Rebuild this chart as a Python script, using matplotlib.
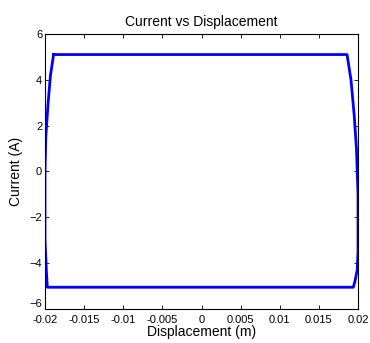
import matplotlib
matplotlib.use('Agg')
import matplotlib.pyplot as plt

plt.rcParams['font.family'] = ['Liberation Sans', 'DejaVu Sans']

# loop (displacement m, current A)
disp = [-0.0189, 0.0, 0.0186, 0.0191, 0.0195, 0.0198, 0.0200, 0.0200, 0.0199, 0.0196, 0.0194,
        0.0, -0.0197, -0.0198, -0.0200, -0.0200, -0.0199, -0.0196, -0.0193, -0.0189]
curr = [5.1, 5.1, 5.1, 4.0, 2.5, 1.0, -1.0, -3.5, -4.3, -4.8, -5.05,
        -5.05, -5.05, -4.5, -3.0, 0.0, 1.5, 3.0, 4.2, 5.1]

xticks = [-0.02, -0.015, -0.01, -0.005, 0, 0.005, 0.01, 0.015, 0.02]
xlabels = ['-0.02', '-0.015', '-0.01', '-0.005', '0', '0.005', '0.01', '0.015', '0.02']
yticks = [-6, -4, -2, 0, 2, 4, 6]

fig = plt.figure(figsize=(3.7, 3.43), dpi=100)
ax = fig.add_axes([0.1216, 0.0991, 0.846, 0.802])
ax.plot(disp, curr, color='#0000ff', lw=2)
ax.set_xlim(-0.02, 0.02)
ax.set_ylim(-6, 6)
ax.set_xticks(xticks)
ax.set_xticklabels(xlabels)
ax.set_yticks(yticks)
ax.tick_params(direction='in', top=True, right=True, labelsize=8, length=3, width=0.6)
ax.tick_params(axis='x', pad=4)
ax.tick_params(axis='y', pad=2)
# nudge the lowest y label up a touch so it clears the first x label
ax.get_yticklabels()[0].set_verticalalignment('bottom')
for s in ax.spines.values():
    s.set_linewidth(0.8)
ax.set_xlabel('Displacement (m)', fontsize=10, labelpad=0)
ax.set_ylabel('Current (A)', fontsize=10, labelpad=5)
ax.set_title('Current vs Displacement', fontsize=10, pad=6)
fig.savefig('out.png', dpi=100)
